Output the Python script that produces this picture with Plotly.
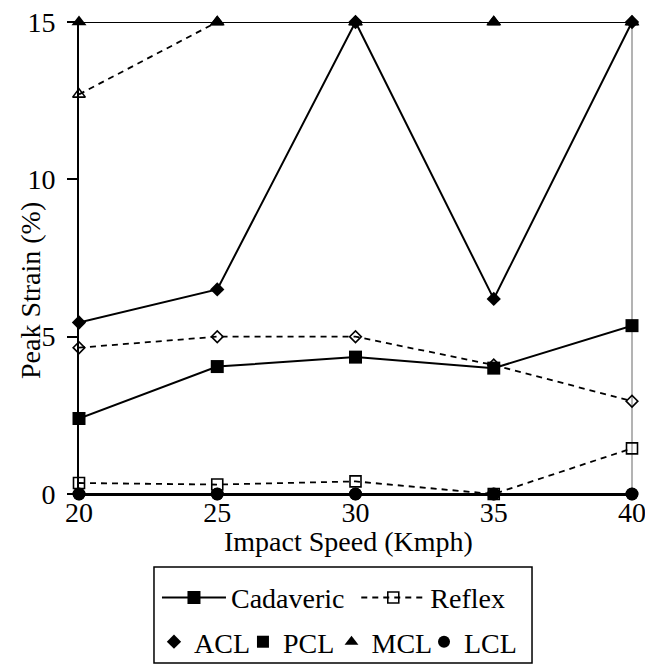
import plotly.graph_objects as go

speeds = [20, 25, 30, 35, 40]
cad_acl = [5.45, 6.5, 15.0, 6.2, 15.0]
ref_acl = [4.65, 5.0, 5.0, 4.1, 2.95]
cad_pcl = [2.4, 4.05, 4.35, 4.0, 5.35]
ref_pcl = [0.35, 0.3, 0.4, 0.0, 1.45]
cad_mcl = [15.0, 15.0, 15.0, 15.0, 15.0]
ref_mcl = [12.7, 15.0, 15.0, 15.0, 15.0]
cad_lcl = [0.0, 0.0, 0.0, 0.0, 0.0]
ref_lcl = [0.0, 0.0, 0.0, 0.0, 0.0]

y_ticks = [0, 5, 10, 15]
x_ticks = [20, 25, 30, 35, 40]

BLACK = "black"
DASH = "6px,5px"
SERIF = "Liberation Serif"

def fnt(size=28):
    return dict(family=SERIF, size=size, color=BLACK)

fig = go.Figure()

def add(y, symbol, size, dashed):
    fig.add_trace(go.Scatter(
        x=speeds, y=y, mode="lines+markers", showlegend=False, cliponaxis=False,
        line=dict(color=BLACK, width=2 if not dashed else 1.8, dash=DASH if dashed else "solid"),
        marker=dict(symbol=symbol, size=size, color=BLACK,
                    line=dict(color=BLACK, width=1.6 if dashed else 0)),
        hoverinfo="skip"))

add(cad_lcl, "circle", 13, False)
add(cad_mcl, "triangle-up", 13, False)
add(cad_acl, "diamond", 11, False)
add(cad_pcl, "square", 13, False)
add(ref_lcl, "circle-open", 11, True)
add(ref_mcl, "triangle-up-open", 11, True)
add(ref_acl, "diamond-open", 9, True)
add(ref_pcl, "square-open", 11, True)

fig.add_trace(go.Scatter(x=[None], y=[None], mode="lines+markers", name="Cadaveric",
                         line=dict(color=BLACK, width=2),
                         marker=dict(symbol="square", size=13, color=BLACK), legend="legend"))
fig.add_trace(go.Scatter(x=[None], y=[None], mode="lines+markers", name="Reflex",
                         line=dict(color=BLACK, width=2, dash=DASH),
                         marker=dict(symbol="square-open", size=11, color=BLACK,
                                     line=dict(color=BLACK, width=1.6)), legend="legend2"))
leg_names = ["ACL", "PCL", "MCL", "LCL"]
leg_symbols = ["diamond", "square", "triangle-up", "circle"]
leg_sizes = [11, 12, 12, 12]
for i, (nm, sym, sz) in enumerate(zip(leg_names, leg_symbols, leg_sizes)):
    fig.add_trace(go.Scatter(x=[None], y=[None], mode="markers", name=nm,
                             marker=dict(symbol=sym, size=sz, color=BLACK),
                             legend="legend%d" % (i + 3)))

LEG_ROW1 = -0.22
LEG_ROW2 = -0.3136
legend_common = dict(orientation="h", xanchor="left", yanchor="middle",
                     bgcolor="rgba(0,0,0,0)", tracegroupgap=0, font=fnt())
layout_legends = {
    "legend": dict(x=0.141, y=LEG_ROW1, itemwidth=64, **legend_common),
    "legend2": dict(x=0.5014, y=LEG_ROW1, itemwidth=64, **legend_common),
}
row2_x = [0.1356, 0.2965, 0.4566, 0.6239]
for i, xx in enumerate(row2_x):
    layout_legends["legend%d" % (i + 3)] = dict(x=xx, y=LEG_ROW2, itemwidth=30, **legend_common)

fig.update_layout(
    width=645, height=669,
    margin=dict(l=79, r=13, t=22, b=175, autoexpand=False),
    paper_bgcolor="white", plot_bgcolor="white",
    font=fnt(),
    xaxis=dict(range=[20, 40], tickvals=x_ticks, ticks="", showline=True, linecolor=BLACK,
               linewidth=2, showgrid=False, zeroline=False, tickfont=fnt(),
               ticklabeloverflow="allow", automargin=False, ticklabelstandoff=-8),
    yaxis=dict(range=[0, 15], tickvals=y_ticks, ticks="outside", ticklen=10, tickwidth=1.5,
               tickcolor=BLACK, showline=True, linecolor=BLACK, linewidth=2,
               showgrid=False, zeroline=False, tickfont=fnt(),
               ticklabelstandoff=6, ticklabeloverflow="allow", automargin=False),
    showlegend=True,
    shapes=[
        dict(type="line", xref="x domain", yref="y domain", x0=1, x1=1, y0=0, y1=1,
             line=dict(color="#808080", width=1.2), layer="below"),
        dict(type="rect", xref="paper", yref="paper", x0=0.1356, x1=0.8192, y0=-0.358, y1=-0.1547,
             line=dict(color=BLACK, width=1.5)),
    ],
    annotations=[
        dict(text="Impact Speed (Kmph)", xref="paper", yref="paper", x=0.488, y=-0.0996,
             xanchor="center", yanchor="middle", showarrow=False, font=fnt()),
        dict(text="Peak Strain (%)", xref="paper", yref="paper", x=-0.0886, y=0.43,
             xanchor="center", yanchor="middle", textangle=-90, showarrow=False, font=fnt()),
    ],
    **layout_legends,
)

fig.write_html("out.html")
